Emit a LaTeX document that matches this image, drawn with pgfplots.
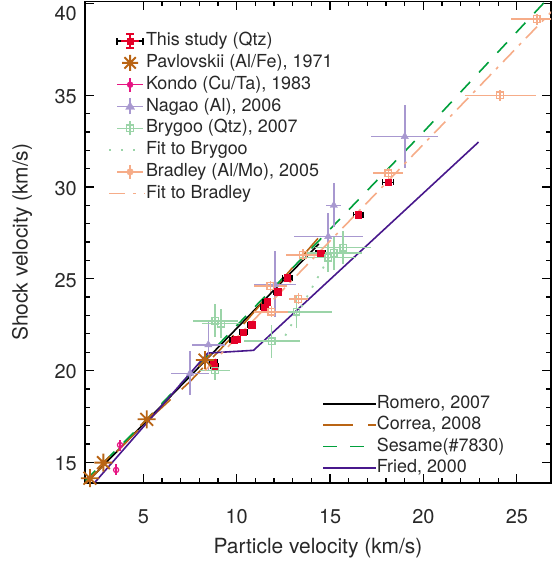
\documentclass[border=0pt]{standalone}
\usepackage{fontspec}
\setmainfont{TeX Gyre Heros}
\usepackage{pgfplots}
\pgfplotsset{compat=1.18}
\usepackage{pgfplotstable}

\definecolor{txt}{RGB}{40,40,40}
\definecolor{cred}{RGB}{228,0,40}
\definecolor{cbrown}{RGB}{185,100,20}
\definecolor{cpink}{RGB}{230,20,130}
\definecolor{clav}{RGB}{168,152,208}
\definecolor{clgreen}{RGB}{155,212,168}
\definecolor{csalmon}{RGB}{246,172,136}
\definecolor{cgreen}{RGB}{0,160,60}
\definecolor{cindigo}{RGB}{72,24,140}

\pgfdeclareplotmark{star8}{%
 \pgfpathmoveto{\pgfqpoint{-\pgfplotmarksize}{0pt}}\pgfpathlineto{\pgfqpoint{\pgfplotmarksize}{0pt}}%
 \pgfpathmoveto{\pgfqpoint{0pt}{-\pgfplotmarksize}}\pgfpathlineto{\pgfqpoint{0pt}{\pgfplotmarksize}}%
 \pgfpathmoveto{\pgfqpoint{-0.707\pgfplotmarksize}{-0.707\pgfplotmarksize}}\pgfpathlineto{\pgfqpoint{0.707\pgfplotmarksize}{0.707\pgfplotmarksize}}%
 \pgfpathmoveto{\pgfqpoint{-0.707\pgfplotmarksize}{0.707\pgfplotmarksize}}\pgfpathlineto{\pgfqpoint{0.707\pgfplotmarksize}{-0.707\pgfplotmarksize}}%
 \pgfusepathqstroke}

% This study (Qtz)
\pgfplotstableread{
x y ex
8.75 20.45 0.2
8.80 20.22 0.2
9.85 21.65 0.2
10.0 21.72 0.2
10.35 22.1 0.2
10.8 22.5 0.2
11.5 23.45 0.2
11.62 23.75 0.2
12.2 24.3 0.2
12.7 25.05 0.25
14.5 26.4 0.25
16.5 28.5 0.25
18.1 30.25 0.3
}\study
% Pavlovskii
\pgfplotstableread{
x y
2.14 14.13
2.86 14.98
5.18 17.34
8.30 20.57
}\pavlov
% Kondo
\pgfplotstableread{
x y ey
3.75 15.94 0.3
3.54 14.58 0.3
}\kondo
% Nagao
\pgfplotstableread{
x y ex ey
7.5 19.85 1.0 1.2
8.48 21.4 0.9 1.35
12.05 24.7 1.1 1.8
14.9 27.3 1.85 1.3
15.2 29.0 0.4 1.2
19.0 32.75 1.8 1.7
}\nagao
% Brygoo
\pgfplotstableread{
x y ex ey
8.85 22.7 1.2 0.9
9.15 22.55 1.0 0.8
8.84 20.0 0.8 0.5
11.87 21.6 1.5 0.9
13.2 23.2 1.9 0.9
14.9 26.15 1.5 0.8
15.2 26.4 1.5 0.9
15.7 26.7 1.5 0.9
}\brygoo
% Bradley
\pgfplotstableread{
x y ex ey
11.85 23.2 0.9 0.3
11.8 24.6 0.9 0.3
13.3 23.9 0.5 0.3
13.55 26.3 0.9 0.3
18.12 30.75 0.8 0.3
24.1 35.0 1.9 0.3
26.07 39.15 1.4 0.3
}\bradley

\pgfplotsset{
  commonaxis/.style={
    scale only axis, width=466bp, height=481.5bp,
    at={(0,0)}, anchor=south west,
    xmin=1.875, xmax=26.83, ymin=13.87, ymax=40.11,
    clip=true,
  },
}

\begin{document}
\begin{tikzpicture}
% ---- frame + model lines
\begin{axis}[commonaxis,
  axis line style={line width=1.4bp, black},
  tick style={line width=1.3bp, black},
  major tick length=9bp, minor tick length=5bp,
  tick align=inside, tick pos=both,
  xtick={5,10,15,20,25}, minor x tick num=4,
  ytick={15,20,25,30,35}, minor y tick num=4,
  extra y ticks={40},
  extra y tick style={yticklabel style={yshift=-9bp}},
  /pgf/number format/assume math mode=true,
  xticklabel style={font=\fontsize{20}{24}\selectfont, text=txt, anchor=center, yshift=-34bp},
  yticklabel style={font=\fontsize{20}{24}\selectfont, text=txt, anchor=east, inner sep=0pt, xshift=-8bp, yshift=-1.5bp},
  xlabel={Particle velocity (km/s)},
  ylabel={Shock velocity (km/s)},
  xlabel style={font=\fontsize{21}{25}\selectfont, text=txt, at={(axis description cs:0.5,-0.135)}, anchor=center},
  ylabel style={font=\fontsize{21}{25}\selectfont, text=txt, at={(axis description cs:-0.135,0.5)}, anchor=center},
  legend style={at={(axis description cs:0.5086,0.183)}, anchor=north west, draw=none, fill=none, inner sep=0pt,
    font=\fontsize{18}{18}\selectfont, text=txt, row sep=3.5bp,
    nodes={inner sep=0pt, text height=13.5bp, text depth=4.3bp}},
  legend cell align=left,
  legend image code/.code={\draw[#1] (0bp,0bp) -- (53bp,0bp);},
  /tikz/every even column/.append style={column sep=10bp},
]
\addplot[black, line width=1.6bp] coordinates {(1.95,13.88) (14.4,26.9)};
\addlegendentry{Romero, 2007}
\addplot[cbrown, line width=1.6bp, dash pattern=on 30bp off 15bp] coordinates {(1.9,13.82) (5,17.05) (7.5,19.4) (10,22.1) (12,24.45) (14.35,27.2)};
\addlegendentry{Correa, 2008}
\addplot[cgreen, line width=1.6bp, dash pattern=on 14bp off 13bp] coordinates {(1.9,14.0) (5,17.15) (10,22.45) (15,27.7) (20,33.0) (26.6,40.2)};
\addlegendentry{Sesame(\#7830)}
\addplot[cindigo, line width=1.6bp] coordinates {(2.4,13.9) (8.45,20.95) (10.9,21.1) (22.95,32.45)};
\addlegendentry{Fried, 2000}
\end{axis}
% ---- data
\begin{axis}[commonaxis, hide axis,
  legend style={at={(axis description cs:0.0494,0.9367)}, anchor=north west, draw=none, fill=none, inner sep=0pt,
    font=\fontsize{18}{18}\selectfont, text=txt, row sep=4bp,
    nodes={inner sep=0pt, text height=13.5bp, text depth=4.3bp}},
  legend cell align=left,
  /tikz/every even column/.append style={column sep=10bp},
]
% This study
\addplot[forget plot, only marks, mark=square*, mark size=3.2bp, cred, mark options={fill=cred, draw=cred},
  error bars/.cd, x dir=both, x explicit, error mark=|, error bar style={black, line width=1.5bp},
  error mark options={black, line width=1.5bp, mark size=3bp}]
  table[x=x, y=y, x error=ex] {\study};
\addlegendimage{legend image code/.code={
  \draw[black, line width=1.5bp] (0bp,0bp) -- (26bp,0bp);
  \draw[black, line width=1.5bp] (0bp,-3.5bp) -- (0bp,3.5bp);
  \draw[black, line width=1.5bp] (26bp,-3.5bp) -- (26bp,3.5bp);
  \draw[cred, line width=1.5bp] (13bp,-7bp) -- (13bp,7bp);
  \draw[cred, line width=1.5bp] (9bp,-7bp) -- (17bp,-7bp);
  \draw[cred, line width=1.5bp] (9bp,7bp) -- (17bp,7bp);
  \fill[cred] (10bp,-3bp) rectangle (16bp,3bp);
  \draw[cred, line width=1.5bp] (4bp,0bp) -- (22bp,0bp);}}
\addlegendentry{This study (Qtz)}
% Pavlovskii
\addplot[forget plot, only marks, mark=star8, mark size=9bp, cbrown, mark options={line width=1.8bp}]
  table[x=x, y=y] {\pavlov};
\addlegendimage{legend image code/.code={
  \draw[cbrown, line width=1.8bp] plot[only marks, mark=star8, mark size=8bp] coordinates {(13bp,0bp)};}}
\addlegendentry{Pavlovskii (Al/Fe), 1971}
% Kondo
\addplot[forget plot, only marks, mark=o, mark size=2.6bp, cpink, mark options={line width=1.2bp},
  error bars/.cd, y dir=both, y explicit, error mark=none, error bar style={cpink, line width=1.3bp}]
  table[x=x, y=y, y error=ey] {\kondo};
\addlegendimage{legend image code/.code={
  \draw[cpink, line width=1.5bp] (0bp,0bp) -- (26bp,0bp);
  \draw[cpink, line width=1.5bp] (13bp,-7bp) -- (13bp,7bp);
  \fill[cpink] (13bp,0bp) circle (3bp);}}
\addlegendentry{Kondo (Cu/Ta), 1983}
% Nagao
\addplot[forget plot, only marks, mark=triangle*, mark size=4.2bp, clav, mark options={fill=clav, draw=clav},
  error bars/.cd, x dir=both, x explicit, y dir=both, y explicit, error mark=none, error bar style={clav, line width=1.5bp}]
  table[x=x, y=y, x error=ex, y error=ey] {\nagao};
\addlegendimage{legend image code/.code={
  \draw[clav, line width=1.5bp] (0bp,0bp) -- (26bp,0bp);
  \draw[clav, line width=1.5bp] (13bp,-8bp) -- (13bp,8bp);
  \fill[clav] (13bp,4.5bp) -- (8.5bp,-3bp) -- (17.5bp,-3bp) -- cycle;}}
\addlegendentry{Nagao (Al), 2006}
% Brygoo
\addplot[forget plot, only marks, mark=square, mark size=3.3bp, clgreen, mark options={line width=1.3bp},
  error bars/.cd, x dir=both, x explicit, y dir=both, y explicit, error mark=none, error bar style={clgreen, line width=1.5bp}]
  table[x=x, y=y, x error=ex, y error=ey] {\brygoo};
\addlegendimage{legend image code/.code={
  \draw[clgreen, line width=1.5bp] (0bp,0bp) -- (26bp,0bp);
  \draw[clgreen, line width=1.5bp] (13bp,-7bp) -- (13bp,7bp);
  \draw[clgreen, line width=1.3bp] (9.7bp,-3.3bp) rectangle (16.3bp,3.3bp);}}
\addlegendentry{Brygoo (Qtz), 2007}
% Fit to Brygoo
\addplot[clgreen, line width=1.8bp, dash pattern=on 2bp off 9bp, forget plot] coordinates {(12.6,21.9) (15.4,27.0)};
\addlegendimage{legend image code/.code={
  \draw[clgreen, line width=1.8bp, dash pattern=on 2bp off 10bp] (-8bp,0bp) -- (28bp,0bp);}}
\addlegendentry{Fit to Brygoo}
% Bradley
\addplot[forget plot, only marks, mark=square, mark size=3.3bp, csalmon, mark options={line width=1.3bp},
  error bars/.cd, x dir=both, x explicit, y dir=both, y explicit, error mark=none, error bar style={csalmon, line width=1.5bp}]
  table[x=x, y=y, x error=ex, y error=ey] {\bradley};
\addlegendimage{legend image code/.code={
  \draw[csalmon, line width=1.5bp] (0bp,0bp) -- (26bp,0bp);
  \draw[csalmon, line width=1.5bp] (13bp,-7bp) -- (13bp,7bp);
  \fill[csalmon] (13bp,0bp) circle (3.3bp);}}
\addlegendentry{Bradley (Al/Mo), 2005}
% Fit to Bradley
\addplot[csalmon, line width=1.6bp, dash pattern=on 16bp off 7bp on 3bp off 7bp, forget plot] coordinates {(8.3,20.0) (26.9,39.6)};
\addlegendimage{legend image code/.code={
  \draw[csalmon, line width=1.6bp, dash pattern=on 16bp off 8bp on 3bp off 8bp] (-8bp,0bp) -- (28bp,0bp);}}
\addlegendentry{Fit to Bradley}
\end{axis}
\pgfresetboundingbox
\path[use as bounding box] (-85bp,-84bp) rectangle (467bp,483bp);
\end{tikzpicture}
\end{document}
